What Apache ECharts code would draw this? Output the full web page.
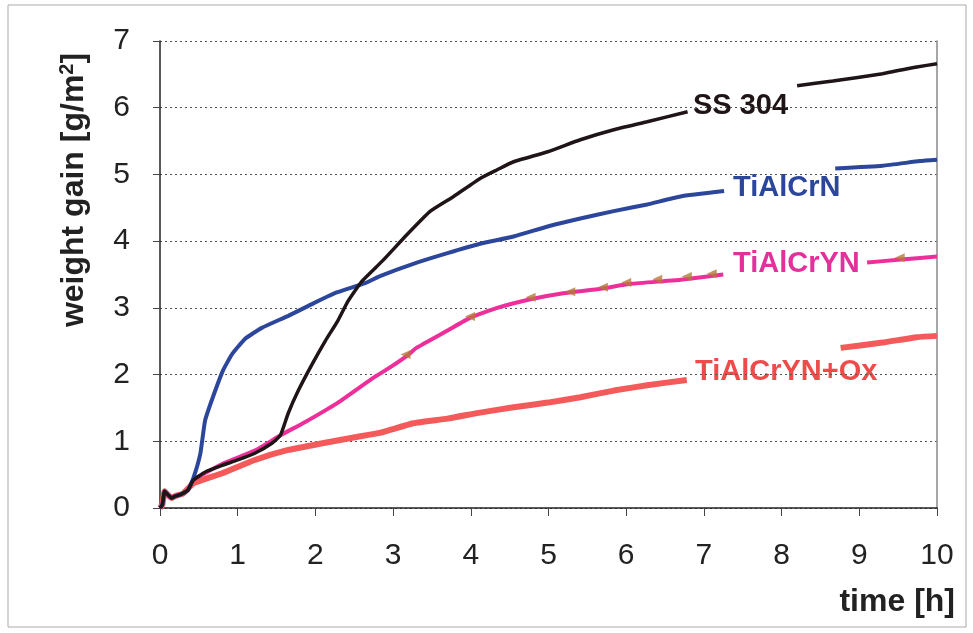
<!DOCTYPE html>
<html>
<head>
<meta charset="utf-8">
<script src="https://cdn.jsdelivr.net/npm/echarts@6/dist/echarts.min.js"></script>
<style>
  html, body { margin: 0; padding: 0; background: #fff; }
  #chart { width: 973px; height: 633px; }
</style>
</head>
<body>
<div id="chart"></div>
<script>
// time [h], weight gain [g/m2]; null = gap where the label sits
const ss304 = [
    [0, 0], [0.03, 0.05], [0.06, 0.25], [0.1, 0.2], [0.15, 0.15], [0.2, 0.18], [0.26, 0.2],
    [0.36, 0.27], [0.43, 0.42], [0.6, 0.55], [0.8, 0.64], [1.0, 0.72], [1.22, 0.82],
    [1.44, 0.97], [1.55, 1.09], [1.65, 1.42], [1.78, 1.76], [1.96, 2.16], [2.13, 2.51],
    [2.29, 2.81], [2.42, 3.1], [2.6, 3.4], [2.86, 3.7], [3.18, 4.1], [3.48, 4.45],
    [3.78, 4.67], [4.12, 4.94], [4.34, 5.07], [4.55, 5.19], [4.99, 5.34], [5.41, 5.52],
    [5.84, 5.67], [6.27, 5.79], [6.79, 5.94],
    [7.5, null],
    [8.2, 6.33], [8.66, 6.4], [9.3, 6.51], [9.74, 6.61], [10, 6.66]
];
const tiAlCrN = [
    [0, 0], [0.03, 0.05], [0.06, 0.25], [0.1, 0.2], [0.15, 0.15], [0.2, 0.18], [0.26, 0.2],
    [0.36, 0.27], [0.43, 0.45], [0.52, 0.82], [0.58, 1.31], [0.68, 1.66], [0.81, 2.06],
    [0.93, 2.31], [1.1, 2.54], [1.31, 2.7], [1.65, 2.88], [1.91, 3.03], [2.25, 3.22],
    [2.64, 3.37], [2.84, 3.48], [3.26, 3.66], [3.7, 3.82], [4.12, 3.96], [4.55, 4.07],
    [4.99, 4.22], [5.41, 4.34], [5.84, 4.45], [6.27, 4.55], [6.7, 4.67], [7.26, 4.75],
    [8, null],
    [8.69, 5.09], [9.3, 5.13], [9.78, 5.2], [10, 5.22]
];
const tiAlCrYN = [
    [0, 0], [0.03, 0.05], [0.06, 0.25], [0.1, 0.2], [0.15, 0.15], [0.2, 0.18], [0.26, 0.2],
    [0.36, 0.27], [0.43, 0.42], [0.8, 0.66], [1.22, 0.86], [1.55, 1.09], [1.87, 1.29],
    [2.29, 1.58], [2.73, 1.94], [2.95, 2.1], [3.2, 2.3], [3.3, 2.4], [3.7, 2.66],
    [3.99, 2.85], [4.34, 3.0], [4.77, 3.13], [5.19, 3.22], [5.63, 3.28], [6.06, 3.36],
    [6.48, 3.4], [6.7, 3.42], [7.25, 3.5],
    [8, null],
    [9.1, 3.68], [9.5, 3.72], [10, 3.77]
];
const tiAlCrYNOx = [
    [0, 0], [0.03, 0.05], [0.06, 0.25], [0.1, 0.2], [0.15, 0.15], [0.2, 0.18], [0.3, 0.22],
    [0.43, 0.37], [0.8, 0.52], [1.22, 0.72], [1.65, 0.87], [2.09, 0.97], [2.51, 1.06],
    [2.84, 1.13], [3.26, 1.27], [3.7, 1.34], [4.12, 1.43], [4.55, 1.51], [4.99, 1.58],
    [5.41, 1.66], [5.84, 1.76], [6.27, 1.84], [6.78, 1.92],
    [7.8, null],
    [8.76, 2.4], [9.3, 2.48], [9.74, 2.56], [10, 2.58]
];
// small brown flags on the TiAlCrYN curve
const ynMarkers = [
    [3.16, 2.3], [3.99, 2.87], [4.77, 3.16], [5.28, 3.24], [5.7, 3.31], [6.0, 3.38],
    [6.4, 3.43], [6.78, 3.47], [7.1, 3.51], [9.52, 3.75]
];

const seriesNames = ['SS 304', 'TiAlCrN', 'TiAlCrYN', 'TiAlCrYN+Ox'];

const colors = {
    ss: '#1f1416',
    n: '#2b469b',
    yn: '#ee2f9a',
    ox: '#f45a5a',
    flag: '#b5793a'
};

const chart = echarts.init(document.getElementById('chart'));

const labelFont = 'bold 29px "Liberation Sans", Arial, sans-serif';

const option = {
    animation: false,
    backgroundColor: '#fff',
    grid: { left: 160, right: 36, top: 41, bottom: 125 },
    xAxis: {
        type: 'value',
        min: 0, max: 10, interval: 1,
        axisLine: { lineStyle: { color: '#222', width: 1.5 } },
        axisTick: { length: 8, lineStyle: { color: '#444' } },
        axisLabel: {
            margin: 33,
            fontSize: 30,
            fontFamily: '"Liberation Sans", Arial, sans-serif',
            color: '#222'
        },
        splitLine: { show: false }
    },
    yAxis: [{
        type: 'value',
        min: 0, max: 7, interval: 1,
        axisLine: { show: true, lineStyle: { color: '#222', width: 1.5 } },
        axisTick: { show: true, length: 7, lineStyle: { color: '#444' } },
        axisLabel: {
            margin: 30,
            fontSize: 30,
            fontFamily: '"Liberation Sans", Arial, sans-serif',
            color: '#222'
        },
        splitLine: { lineStyle: { color: '#555', width: 1, type: [2, 3] } }
    }, {
        type: 'value',
        position: 'right',
        min: 0, max: 7, interval: 1,
        axisLine: { show: true, lineStyle: { color: '#888', width: 1.5 } },
        axisTick: { show: false },
        axisLabel: { show: false },
        splitLine: { show: false }
    }],
    series: [
        {
            name: seriesNames[3], type: 'line', data: tiAlCrYNOx, showSymbol: false, smooth: 0.15,
            lineStyle: { color: colors.ox, width: 6 }, z: 2
        },
        {
            name: seriesNames[2], type: 'line', data: tiAlCrYN, showSymbol: false, smooth: 0.15,
            lineStyle: { color: colors.yn, width: 4 }, z: 3
        },
        {
            name: 'flags', type: 'scatter', data: ynMarkers,
            symbol: 'triangle', symbolSize: [9, 10], symbolRotate: 90,
            itemStyle: { color: colors.flag }, z: 4
        },
        {
            name: seriesNames[1], type: 'line', data: tiAlCrN, showSymbol: false, smooth: 0.15,
            lineStyle: { color: colors.n, width: 4 }, z: 5
        },
        {
            name: seriesNames[0], type: 'line', data: ss304, showSymbol: false, smooth: 0.15,
            lineStyle: { color: colors.ss, width: 3.5 }, z: 6
        }
    ],
    graphic: [
        {
            type: 'rect', shape: { x: 8, y: 5, width: 958, height: 622 },
            style: { fill: null, stroke: '#aaa', lineWidth: 1 }, z: -1
        },
        {
            type: 'text', x: 74, y: 190, rotation: Math.PI / 2,
            style: {
                text: 'weight gain [g/m{sup|2}]',
                font: 'bold 32px "Liberation Sans", Arial, sans-serif',
                fill: '#222', align: 'center', verticalAlign: 'middle',
                rich: { sup: { font: 'bold 20px "Liberation Sans", Arial, sans-serif', fill: '#222', verticalAlign: 'top', padding: [0, 0, 14, 0] } }
            }
        },
        {
            type: 'text', x: 955, y: 602,
            style: {
                text: 'time [h]', font: 'bold 32px "Liberation Sans", Arial, sans-serif',
                fill: '#222', align: 'right', verticalAlign: 'middle'
            }
        },
        {
            type: 'text', x: 693, y: 106,
            style: { text: seriesNames[0], font: labelFont, fill: colors.ss, verticalAlign: 'middle' }
        },
        {
            type: 'text', x: 733, y: 188,
            style: { text: seriesNames[1], font: labelFont, fill: colors.n, verticalAlign: 'middle' }
        },
        {
            type: 'text', x: 733, y: 264,
            style: { text: seriesNames[2], font: labelFont, fill: '#e3309a', verticalAlign: 'middle' }
        },
        {
            type: 'text', x: 695, y: 372,
            style: { text: seriesNames[3], font: labelFont, fill: '#ef4b4b', verticalAlign: 'middle' }
        }
    ]
};

chart.setOption(option);
</script>
</body>
</html>
